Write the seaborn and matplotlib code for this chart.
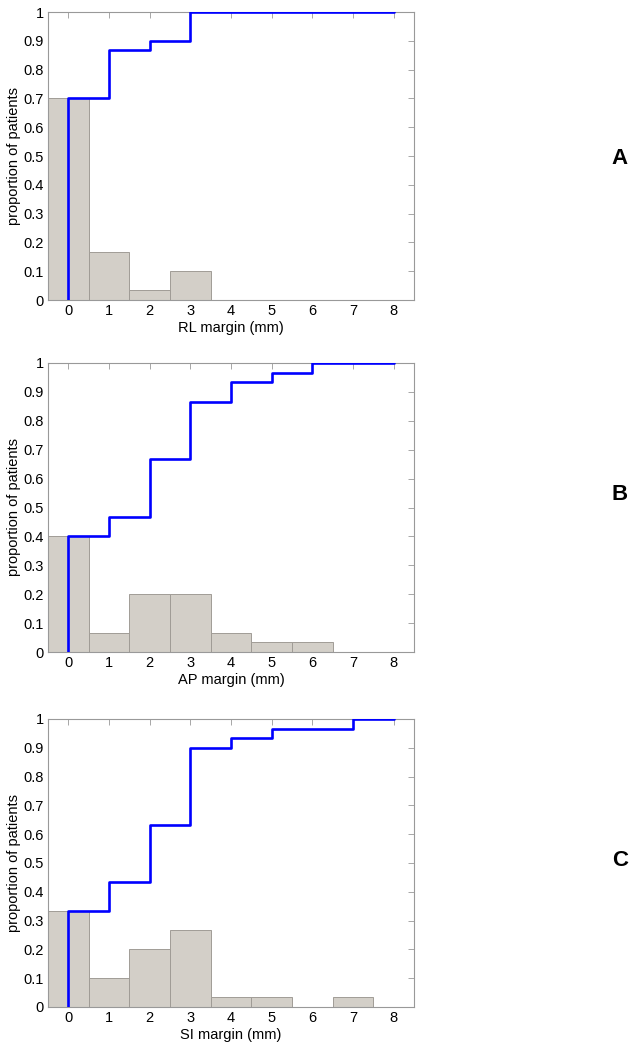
import numpy as np
import seaborn as sns
import matplotlib.pyplot as plt
from matplotlib.ticker import FormatStrFormatter

# margin bins (mm) and proportion of patients in each bin (n = 30)
margins = [0, 1, 2, 3, 4, 5, 6, 7, 8]
rl_prop = [21/30, 5/30, 1/30, 3/30, 0, 0, 0, 0, 0]
ap_prop = [12/30, 2/30, 6/30, 6/30, 2/30, 1/30, 1/30, 0, 0]
si_prop = [10/30, 3/30, 6/30, 8/30, 1/30, 1/30, 0, 1/30, 0]

panels = [('RL margin (mm)', rl_prop, 'A'),
          ('AP margin (mm)', ap_prop, 'B'),
          ('SI margin (mm)', si_prop, 'C')]

sns.set_style('white')
plt.rcParams['font.family'] = ['Liberation Sans', 'DejaVu Sans']
plt.rcParams['text.color'] = 'black'
plt.rcParams['axes.labelcolor'] = 'black'
plt.rcParams['xtick.labelcolor'] = 'black'
plt.rcParams['ytick.labelcolor'] = 'black'

W, H = 643, 1048
fig = plt.figure(figsize=(W / 100, H / 100), dpi=100)

# axes boxes in pixels: (top, bottom), and panel letter height
boxes = [(12, 300), (363, 652), (719, 1007)]
letter_y = [158, 495, 860]
left, right = 48, 414

for (xlab, prop, letter), (top, bot), ly in zip(panels, boxes, letter_y):
    ax = fig.add_axes([left / W, 1 - bot / H, (right - left) / W, (bot - top) / H])
    sns.histplot(x=margins, weights=prop, discrete=True, ax=ax,
                 color='#d3cfc8', edgecolor='#a09c96', linewidth=0.7, alpha=1)
    cdf = np.cumsum(prop)
    xs = [0] + margins
    ys = [0] + list(cdf)
    ax.step(xs, ys, where='post', color='#0000ff', linewidth=1.9, zorder=3)

    ax.set_xlim(-0.5, 8.5)
    ax.set_ylim(0, 1)
    ax.set_xticks(margins)
    ax.set_yticks(np.arange(0, 1.01, 0.1))
    ax.yaxis.set_major_formatter(FormatStrFormatter('%g'))
    ax.tick_params(direction='in', length=4, width=0.6, color='#999999',
                   top=True, right=True, labelsize=10.5, pad=3)
    for s in ax.spines.values():
        s.set_color('#999999')
        s.set_linewidth(0.8)
    ax.set_xlabel(xlab, fontsize=10.5, labelpad=2)
    ax.set_ylabel('proportion of patients', fontsize=10.5, labelpad=2)

    fig.text(620 / W, 1 - ly / H, letter, fontsize=16,
             fontweight='bold', ha='center', va='center', color='black')

fig.savefig('out.png', dpi=100)
